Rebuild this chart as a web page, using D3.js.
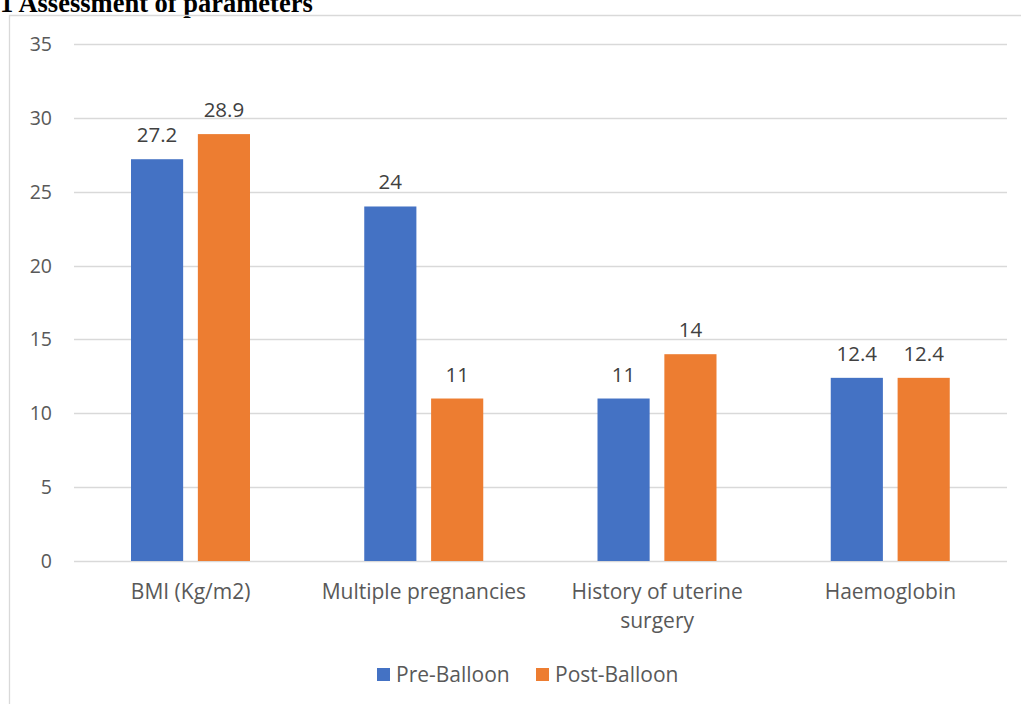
<!DOCTYPE html>
<html>
<head>
<meta charset="utf-8">
<script src="https://cdn.jsdelivr.net/npm/d3@7"></script>
<style>
  body { margin: 0; background: #fff; }
  svg { display: block; }
</style>
</head>
<body>
<div id="chart"></div>
<script>
// data
const categories = ['BMI (Kg/m2)', 'Multiple pregnancies', 'History of uterine surgery', 'Haemoglobin']
const preBalloon = [27.2, 24, 11, 12.4]
const postBalloon = [28.9, 11, 14, 12.4]
const seriesNames = ['Pre-Balloon', 'Post-Balloon']
const yTicks = [0, 5, 10, 15, 20, 25, 30, 35]

const colors = ['#4472c4', '#ed7d31']
const font = '"Open Sans", Lato, sans-serif'

var width = 1021, height = 704

var svg = d3.select('#chart')
    .append('svg')
    .attr('width', width)
    .attr('height', height)

// title, partly cut off at the top
svg.append('text')
    .attr('x', 0)
    .attr('y', 12)
    .attr('font-family', '"Liberation Serif", "Times New Roman", serif')
    .attr('font-weight', 'bold')
    .attr('font-size', '26.5px')
    .attr('fill', '#000')
    .text('1 Assessment of parameters')

// chart frame (only left and top edges visible)
svg.append('path')
    .attr('d', 'M9.5,' + height + 'V15.5H' + width)
    .attr('fill', 'none')
    .attr('stroke', '#d9d9d9')
    .attr('stroke-width', 1.3)

var x0 = d3.scaleBand()
    .domain(categories)
    .range([74, 1007])

var x1 = d3.scaleBand()
    .domain(seriesNames)
    .range([57, 176])
    .paddingInner(0.22)

var y = d3.scaleLinear()
    .domain([0, 35])
    .range([561, 44])

// gridlines
svg.append('g')
    .selectAll('line')
    .data(yTicks)
    .join('line')
    .attr('x1', 74)
    .attr('x2', 1007)
    .attr('y1', d => Math.round(y(d)) + 0.5)
    .attr('y2', d => Math.round(y(d)) + 0.5)
    .attr('stroke', '#d9d9d9')
    .attr('stroke-width', 1.3)

// y tick labels
svg.append('g')
    .selectAll('text')
    .data(yTicks)
    .join('text')
    .attr('x', 52)
    .attr('y', d => y(d))
    .attr('dy', '0.36em')
    .attr('text-anchor', 'end')
    .attr('font-family', font)
    .attr('font-size', '19.5px')
    .attr('fill', '#595959')
    .text(d => d)

var rows = categories.map((c, i) => ({
    cat: c,
    values: [
        { name: seriesNames[0], value: preBalloon[i] },
        { name: seriesNames[1], value: postBalloon[i] }
    ]
}))

var groups = svg.selectAll('g.cat')
    .data(rows)
    .join('g')
    .attr('class', 'cat')
    .attr('transform', d => 'translate(' + x0(d.cat) + ',0)')

groups.selectAll('rect')
    .data(d => d.values)
    .join('rect')
    .attr('x', d => x1(d.name))
    .attr('y', d => y(d.value))
    .attr('width', x1.bandwidth())
    .attr('height', d => y(0) - y(d.value))
    .attr('fill', (d, i) => colors[i])

groups.selectAll('text.val')
    .data(d => d.values)
    .join('text')
    .attr('class', 'val')
    .attr('x', d => x1(d.name) + x1.bandwidth() / 2)
    .attr('y', d => y(d.value) - 17)
    .attr('text-anchor', 'middle')
    .attr('font-family', font)
    .attr('font-size', '20.5px')
    .attr('fill', '#404040')
    .text(d => d.value)

// category labels, wrapped like the original
var wrapAt = { 'History of uterine surgery': ['History of uterine', 'surgery'] }
groups.append('text')
    .attr('text-anchor', 'middle')
    .attr('font-family', font)
    .attr('font-size', '21px')
    .attr('fill', '#595959')
    .selectAll('tspan')
    .data(d => wrapAt[d.cat] || [d.cat])
    .join('tspan')
    .attr('x', x0.bandwidth() / 2)
    .attr('y', (d, i) => 599 + i * 29)
    .text(d => d)

// legend
var legend = svg.append('g')
    .attr('font-family', font)
    .attr('font-size', '21px')
    .attr('fill', '#595959')

var legendX = [377, 536]
seriesNames.forEach((name, i) => {
    legend.append('rect')
        .attr('x', legendX[i])
        .attr('y', 668)
        .attr('width', 13)
        .attr('height', 13)
        .attr('fill', colors[i])
    legend.append('text')
        .attr('x', legendX[i] + 19)
        .attr('y', 682)
        .text(name)
})
</script>
</body>
</html>
